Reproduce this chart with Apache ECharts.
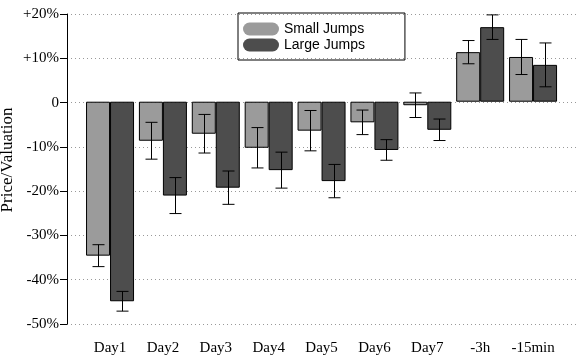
<!DOCTYPE html>
<html>
<head>
<meta charset="utf-8">
<script src="https://cdn.jsdelivr.net/npm/echarts@6/dist/echarts.min.js"></script>
<style>
  html, body { margin: 0; padding: 0; background: #fff; }
  #bar { width: 580px; height: 356px; }
</style>
</head>
<body>
<div id="bar"></div>
<script>
var categories = ['Day1', 'Day2', 'Day3', 'Day4', 'Day5', 'Day6', 'Day7', '-3h', '-15min'];
var smallJumps = [-35.1, -8.9, -7.3, -10.5, -6.6, -4.7, -0.8, 11.3, 10.2];
var smallErr = [2.5, 4.2, 4.4, 4.6, 4.6, 2.8, 2.8, 2.65, 4.0];
var largeJumps = [-45.5, -21.4, -19.6, -15.6, -18.1, -11.0, -6.4, 17.0, 8.4];
var largeErr = [2.25, 4.1, 3.8, 4.1, 3.8, 2.35, 2.45, 2.8, 5.0];
var yMin = -50, yMax = 20, yStep = 10;

function toErr(vals, err) {
	return vals.map(function(v, i) { return [i, v - err[i], v + err[i]]; });
}

// error bar centred on one of the two bars (shift = half a bar width)
function errRender(shift) {
	return function(params, api) {
		var x = api.value(0);
		var top = api.coord([x, api.value(2)]);
		var bot = api.coord([x, api.value(1)]);
		var cx = Math.round(top[0] + shift) + 0.5;
		var h = 6;
		var st = { stroke: '#000', lineWidth: 1 };
		return {
			type: 'group',
			children: [
				{ type: 'line', shape: { x1: cx, y1: top[1], x2: cx, y2: bot[1] }, style: st },
				{ type: 'line', shape: { x1: cx - h, y1: top[1], x2: cx + h, y2: top[1] }, style: st },
				{ type: 'line', shape: { x1: cx - h, y1: bot[1], x2: cx + h, y2: bot[1] }, style: st }
			]
		};
	};
}

var myChart = echarts.init(document.getElementById('bar'));
var option = {
	animation: false,
	backgroundColor: '#fff',
	color: ['#9b9b9b', '#4d4d4d'],
	// grid 0: frame with y axis + dotted lines, grid 1: the bars (narrower, matplotlib margins)
	grid: [
		{ left: 67, right: 4, top: 14, bottom: 32 },
		{ left: 83.6, right: 20.5, top: 14, bottom: 32 }
	],
	// y axis title, placed by hand
	graphic: [{
		type: 'text',
		x: 8,
		y: 160,
		rotation: Math.PI / 2,
		style: {
			text: 'Price/Valuation',
			fontFamily: 'Liberation Serif',
			fontSize: 17,
			fill: '#000',
			align: 'center',
			verticalAlign: 'middle'
		}
	}],
	legend: {
		data: ['Small Jumps', 'Large Jumps'],
		orient: 'vertical',
		left: 238,
		top: 13,
		padding: [9, 40, 8, 5],
		itemGap: 2,
		itemWidth: 36,
		itemHeight: 13,
		icon: 'path://M6.5,0H29.5A6.5,6.5,0,0,1,29.5,13H6.5A6.5,6.5,0,0,1,6.5,0Z',
		itemStyle: { borderWidth: 0 },
		borderColor: '#000',
		borderWidth: 1,
		borderRadius: 0,
		textStyle: { fontFamily: 'Liberation Sans', fontSize: 14, color: '#000' }
	},
	xAxis: [
		{ type: 'value', gridIndex: 0, min: 0, max: 1, show: false },
		{
			type: 'category',
			gridIndex: 1,
			data: categories,
			axisLine: { show: false },
			axisTick: { show: false },
			splitLine: { show: false },
			axisLabel: { interval: 0, margin: 20, fontFamily: 'Liberation Serif', fontSize: 15, color: '#000' }
		}
	],
	yAxis: [
		{
			type: 'value',
			gridIndex: 0,
			min: yMin,
			max: yMax,
			interval: yStep,
			axisLine: { show: true, onZero: false, lineStyle: { color: '#000', width: 1 } },
			axisTick: { show: true, length: 7, lineStyle: { color: '#000' } },
			splitLine: { show: true, lineStyle: { color: '#999', type: [1, 3], width: 1 } },
			axisLabel: {
				margin: 8,
				fontFamily: 'Liberation Serif',
				fontSize: 15,
				color: '#000',
				formatter: function(v) {
					if (v > 0) return '+' + v + '%';
					if (v === 0) return '0';
					return v + '%';
				}
			}
		},
		{ type: 'value', gridIndex: 1, min: yMin, max: yMax, interval: yStep, show: false, splitLine: { show: false } }
	],
	series: [
		{
			name: 'Small Jumps',
			type: 'bar',
			xAxisIndex: 1,
			yAxisIndex: 1,
			barWidth: 24,
			barGap: '0%',
			data: smallJumps,
			itemStyle: { color: '#9b9b9b', borderColor: '#000', borderWidth: 1 }
		},
		{
			name: 'Large Jumps',
			type: 'bar',
			xAxisIndex: 1,
			yAxisIndex: 1,
			barWidth: 24,
			barGap: '0%',
			data: largeJumps,
			itemStyle: { color: '#4d4d4d', borderColor: '#000', borderWidth: 1 }
		},
		{
			type: 'custom',
			xAxisIndex: 1,
			yAxisIndex: 1,
			renderItem: errRender(-12),
			encode: { x: 0, y: [1, 2] },
			data: toErr(smallJumps, smallErr),
			z: 5
		},
		{
			type: 'custom',
			xAxisIndex: 1,
			yAxisIndex: 1,
			renderItem: errRender(12),
			encode: { x: 0, y: [1, 2] },
			data: toErr(largeJumps, largeErr),
			z: 5
		}
	]
};
myChart.setOption(option);
</script>
</body>
</html>
